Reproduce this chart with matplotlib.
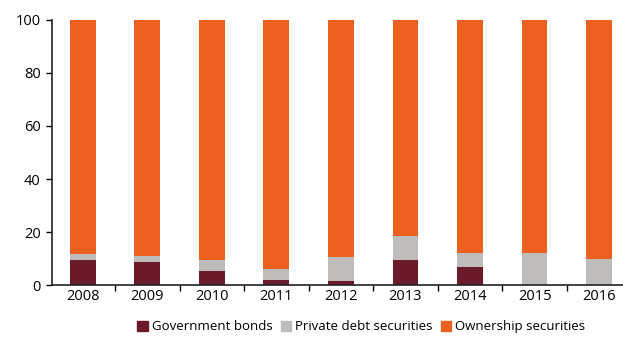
import numpy as np
import matplotlib.pyplot as plt
from matplotlib.patches import Patch

# datos del gráfico (porcentajes)
anios = ['2008', '2009', '2010', '2011', '2012', '2013', '2014', '2015', '2016']
bonos_gobierno = [9.5, 8.6, 5.4, 1.8, 1.4, 9.5, 7.0, 0.2, 0.0]
deuda_privada = [2.1, 2.5, 4.1, 4.4, 9.3, 8.9, 5.0, 11.8, 9.9]
propiedad = [100 - g - p for g, p in zip(bonos_gobierno, deuda_privada)]

col_gob = '#6b1a2b'
col_priv = '#bebdbb'
col_prop = '#ec611f'

plt.rcParams['font.family'] = ['Open Sans', 'DejaVu Sans']

fig = plt.figure(figsize=(6.23, 3.37), dpi=100)
ax = fig.add_axes([0.083, 0.154, 0.917, 0.787])

x = np.arange(len(anios))
ancho = 0.40
ax.bar(x, bonos_gobierno, ancho, color=col_gob)
ax.bar(x, deuda_privada, ancho, bottom=bonos_gobierno, color=col_priv)
base = np.array(bonos_gobierno) + np.array(deuda_privada)
ax.bar(x, propiedad, ancho, bottom=base, color=col_prop)

ax.set_xlim(-0.48, 8.37)
ax.set_ylim(0, 100)
ax.set_yticks(range(0, 101, 20))
ax.tick_params(axis='y', direction='out', length=4, width=1, labelsize=10.5, pad=4)

# etiquetas de año centradas, marcas entre categorías
ax.set_xticks(x)
ax.set_xticklabels(anios)
ax.tick_params(axis='x', which='major', length=0, labelsize=10.5, pad=3)
ax.set_xticks(x[:-1] + 0.5, minor=True)
ax.tick_params(axis='x', which='minor', direction='out', length=4, width=1)

for lado in ['top', 'right']:
    ax.spines[lado].set_visible(False)
for lado in ['left', 'bottom']:
    ax.spines[lado].set_color('#222222')
    ax.spines[lado].set_linewidth(1.2)

manejadores = [Patch(color=col_gob, label='Government bonds'),
               Patch(color=col_priv, label='Private debt securities'),
               Patch(color=col_prop, label='Ownership securities')]
fig.legend(handles=manejadores, loc='center', bbox_to_anchor=(0.58, 0.03), ncol=3,
           frameon=False, fontsize=9.5, handlelength=0.8, handleheight=0.8,
           handletextpad=0.3, columnspacing=0.6)

fig.savefig('out.png', dpi=100)
